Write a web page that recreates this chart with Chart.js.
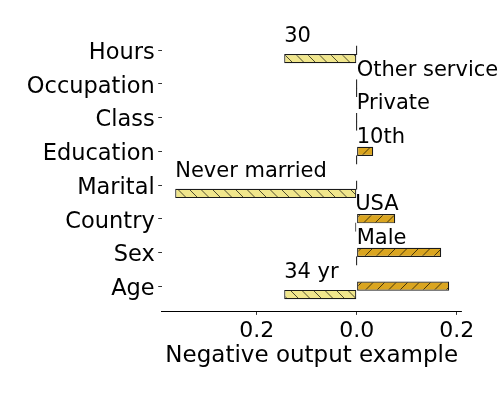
<!DOCTYPE html>
<html>
<head>
<meta charset="utf-8">
<script src="https://cdn.jsdelivr.net/npm/chart.js@4/dist/chart.umd.min.js"></script>
<style>
html,body{margin:0;padding:0;background:#fff;}
#wrap{width:498px;height:399px;}
</style>
</head>
<body>
<div id="wrap"><canvas id="c" width="498" height="399"></canvas></div>
<script>
// ---- data ----
const CATEGORIES = ['Hours', 'Occupation', 'Class', 'Education', 'Marital', 'Country', 'Sex', 'Age'];
const POSITIVE = [0, 0, 0, 0.033, 0, 0.077, 0.169, 0.185];
const NEGATIVE = [-0.145, 0, 0, 0, -0.363, -0.003, 0, -0.145];
const VALUE_LABELS = ['30', 'Other service', 'Private', '10th', 'Never married', 'USA', 'Male', '34 yr'];
const X_TICKS = [-0.2, 0, 0.2];
const X_TICK_LABELS = ['0.2', '0.0', '0.2'];
const X_TITLE = 'Negative output example';

// ---- layout / style ----
const NEG_ROW_OFFSET = 0.25;   // light bar sits one bar-height below the dark one
const LABEL_ROW_OFFSET = 0.41; // value label sits about half a row above
const FONT = 'DejaVu Sans';
const EDGE = '#1a1a1a';

const canvas = document.getElementById('c');
const ctx = canvas.getContext('2d');

function hatch(bg, dir) {
  const s = 23;
  const c = document.createElement('canvas');
  c.width = s; c.height = s;
  const g = c.getContext('2d');
  g.fillStyle = bg;
  g.fillRect(0, 0, s, s);
  g.strokeStyle = 'rgba(0,0,0,0.75)';
  g.lineWidth = 0.9;
  g.beginPath();
  for (let k = -2; k <= 2; k++) {
    const o = k * s / 2;
    if (dir === '/') { g.moveTo(o, s); g.lineTo(o + s, 0); }
    else { g.moveTo(o, 0); g.lineTo(o + s, s); }
  }
  g.stroke();
  return ctx.createPattern(c, 'repeat');
}

const darkFill = hatch('#DAA520', '/');
const lightFill = hatch('#F0E68C', '\\');

const common = {
  borderColor: EDGE,
  borderWidth: 1.2,
  borderSkipped: false,
  minBarLength: 1.3,
  grouped: false,
  categoryPercentage: 1.1,
  barPercentage: 1,
  inflateAmount: 0
};

const valueLabelPlugin = {
  id: 'valueLabels',
  afterDatasetsDraw(chart) {
    const c = chart.ctx;
    const xs = chart.scales.x, ys = chart.scales.y;
    c.save();
    c.font = '21px "' + FONT + '"';
    c.fillStyle = '#000';
    c.textAlign = 'left';
    c.textBaseline = 'middle';
    VALUE_LABELS.forEach((t, i) => {
      const px = xs.getPixelForValue(Math.min(0, POSITIVE[i], NEGATIVE[i]));
      const py = ys.getPixelForValue(i - LABEL_ROW_OFFSET);
      c.fillText(t, px, py);
    });
    c.restore();
  }
};

new Chart(ctx, {
  type: 'bar',
  data: {
    datasets: [
      Object.assign({ label: 'positive', data: POSITIVE.map((v, i) => ({ x: v, y: i })), backgroundColor: darkFill }, common),
      Object.assign({ label: 'negative', data: NEGATIVE.map((v, i) => ({ x: v, y: i + NEG_ROW_OFFSET })), backgroundColor: lightFill }, common)
    ]
  },
  options: {
    indexAxis: 'y',
    responsive: false,
    animation: false,
    layout: { padding: { top: 33.4, right: 36.3, left: 0, bottom: 0 } },
    plugins: { legend: { display: false }, tooltip: { enabled: false } },
    scales: {
      x: {
        type: 'linear',
        min: -0.39,
        max: 0.21,
        offset: false,
        afterBuildTicks: s => { s.ticks = X_TICKS.map(v => ({ value: v })); },
        afterFit: s => { s.height = 87.6; },
        ticks: {
          callback: (v, i) => X_TICK_LABELS[i],
          font: { family: FONT, size: 22 },
          color: '#000',
          padding: 3,
          maxRotation: 0,
          autoSkip: false
        },
        grid: { display: true, offset: false, drawOnChartArea: false, drawTicks: true, tickLength: 3.5, color: '#000', lineWidth: 0.8 },
        border: { display: true, color: '#000', width: 1 },
        title: {
          display: true,
          text: X_TITLE,
          color: '#000',
          font: { family: FONT, size: 23 },
          padding: { top: 0, bottom: 29.3 }
        }
      },
      y: {
        type: 'linear',
        reverse: true,
        min: -0.5,
        max: 7.75,
        offset: false,
        afterBuildTicks: s => { s.ticks = CATEGORIES.map((_, i) => ({ value: i })); },
        afterFit: s => { s.width = 161.7; },
        ticks: {
          callback: v => CATEGORIES[v],
          font: { family: FONT, size: 22.5 },
          color: '#000',
          padding: 3.5,
          labelOffset: 3,
          autoSkip: false
        },
        grid: { display: true, offset: false, drawOnChartArea: false, drawTicks: true, tickLength: 3.5, color: '#000', lineWidth: 0.8 },
        border: { display: false }
      }
    }
  },
  plugins: [valueLabelPlugin]
});
</script>
</body>
</html>
